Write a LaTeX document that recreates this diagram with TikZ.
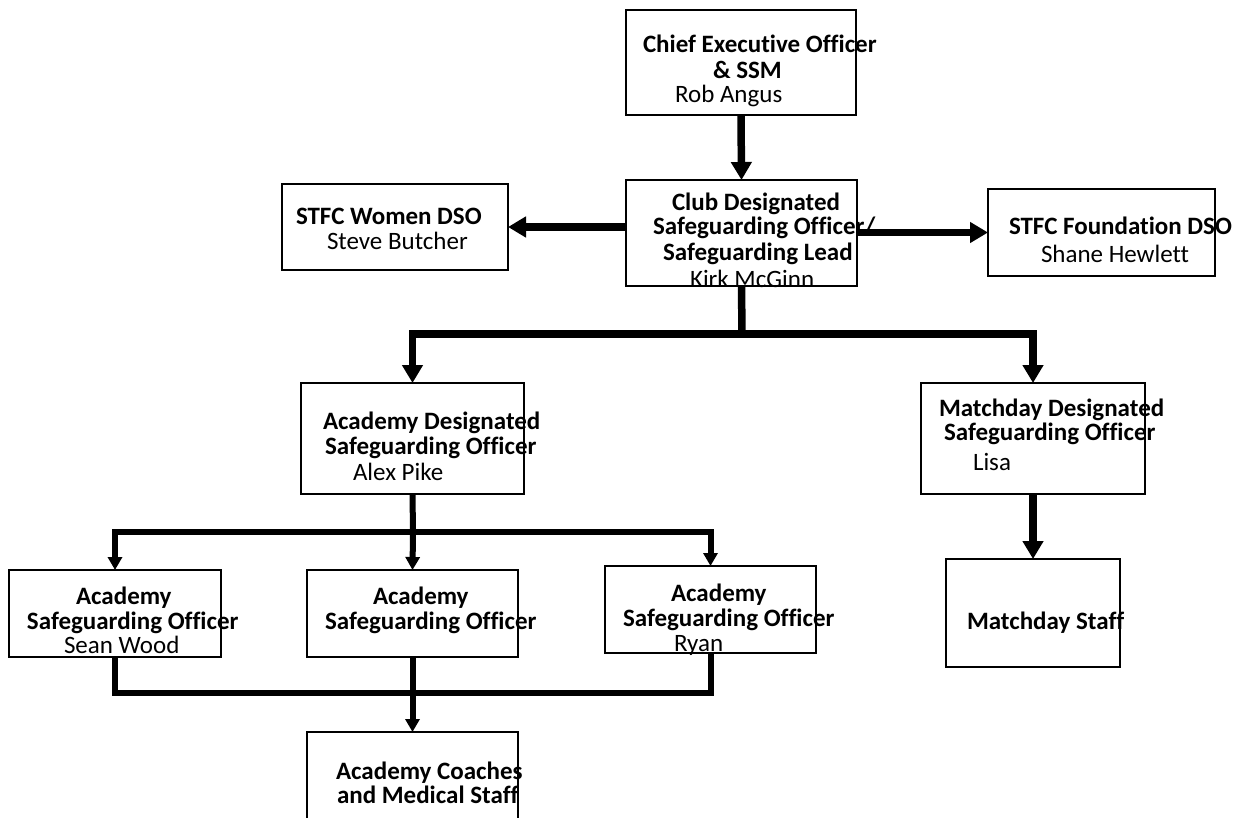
\documentclass[tikz,border=0pt]{standalone}
\usepackage{fontspec}
\setmainfont{Carlito}[Ligatures=NoCommon]
\usetikzlibrary{arrows.meta}
\begin{document}
\begin{tikzpicture}[x=1pt,y=-1pt,
  box/.style={draw=black,line width=2.8pt,rectangle,inner sep=0pt,outer sep=0pt,anchor=north west},
  txt/.style={anchor=base west,inner sep=0pt,outer sep=0pt,text=black,font=\fontsize{25}{30}\selectfont},
  txtb/.style={txt,font=\fontsize{25}{30}\selectfont\bfseries},
  bigline/.style={draw=black,line width=7.5pt,line join=miter},
  bigarr/.style={bigline,-{Triangle[width=20pt,length=18pt]}},
  midline/.style={draw=black,line width=6pt,line join=miter},
  midarr/.style={midline,-{Triangle[width=14pt,length=13pt]}}
]
\useasboundingbox (0,0) rectangle (1241,818);
\clip (0,0) rectangle (1241,818);
\fill[white] (0,0) rectangle (1241,818);

% boxes
\node[box,minimum width=230pt,minimum height=105pt] (ceo) at (626,10) {};
\node[box,minimum width=231pt,minimum height=106pt] (cdso) at (626,180) {};
\node[box,minimum width=226pt,minimum height=86pt] (women) at (282,184) {};
\node[box,minimum width=227pt,minimum height=87pt] (found) at (988,189) {};
\node[box,minimum width=223pt,minimum height=111pt] (adso) at (301,383) {};
\node[box,minimum width=224pt,minimum height=111pt] (mdso) at (921,383) {};
\node[box,minimum width=212pt,minimum height=87pt] (aso1) at (9,570) {};
\node[box,minimum width=211pt,minimum height=87pt] (aso2) at (307,570) {};
\node[box,minimum width=211pt,minimum height=87pt] (aso3) at (605,566) {};
\node[box,minimum width=211pt,minimum height=100pt] (coach) at (307,732) {};
\node[box,minimum width=174pt,minimum height=108pt] (mstaff) at (946,559) {};

% connectors
\coordinate (b1) at (742,334);
\coordinate (b2) at (413,532);
\coordinate (b3) at (413,693);
\draw[bigarr] (ceo.south) -- (cdso.north);
\draw[bigarr] (cdso.west |- women.east) -- (women.east);
\draw[bigarr] (cdso.east |- found.west) -- (found.west);
\draw[bigline] (cdso.south) -- (b1);
\draw[bigarr] (b1) -| (adso.north);
\draw[bigarr] (b1) -| (mdso.north);
\draw[bigarr] (mdso.south) -- (mstaff.north);
\draw[midline] (adso.south) -- (b2);
\draw[midarr] (b2) -| (aso1.north);
\draw[midarr] (b2) -- (aso2.north);
\draw[midarr] (b2) -| (aso3.north);
\draw[midline] (aso1.south) |- (b3) -| (aso3.south);
\draw[midarr] (aso2.south) -- (coach.north);

% texts
\node[txtb] (t1) at (643,53) {Chief Executive Officer};
\node[txtb] (t2) at (713,79) {\& SSM};
\node[txt]  (t3) at (675,103) {Rob Angus};

\node[txtb] (t4) at (672,211) {Club Designated};
\node[txtb] (t5) at (653,235) {Safeguarding Officer/};
\node[txtb] (t6) at (663,260) {Safeguarding Lead};
\node[txt]  (t7) at (690,287) {Kirk McGinn};

\node[txtb] (t8) at (296,225) {STFC Women DSO};
\node[txt]  (t9) at (327,250) {Steve Butcher};

\node[txtb] (t10) at (1009,235) {STFC Foundation DSO};
\node[txt]  (t11) at (1041,262) {Shane Hewlett};

\node[txtb] (t12) at (323,429) {Academy Designated};
\node[txtb] (t13) at (325,454) {Safeguarding Officer};
\node[txt]  (t14) at (353,480) {Alex Pike};

\node[txtb] (t15) at (939,416) {Matchday Designated};
\node[txtb] (t16) at (944,440) {Safeguarding Officer};
\node[txt]  (t17) at (973,470) {Lisa};

\node[txtb] (t18) at (76,604) {Academy};
\node[txtb] (t19) at (27,629) {Safeguarding Officer};
\node[txt]  (t20) at (64,653) {Sean Wood};

\node[txtb] (t21) at (373,604) {Academy};
\node[txtb] (t22) at (325,629) {Safeguarding Officer};

\node[txtb] (t23) at (671,601) {Academy};
\node[txtb] (t24) at (623,626) {Safeguarding Officer};
\node[txt]  (t25) at (674,651) {Ryan};

\node[txtb] (t26) at (336,779) {Academy Coaches};
\node[txtb] (t27) at (337,803) {and Medical Staff};

\node[txtb] (t28) at (967,629) {Matchday Staff};
\end{tikzpicture}
\end{document}
